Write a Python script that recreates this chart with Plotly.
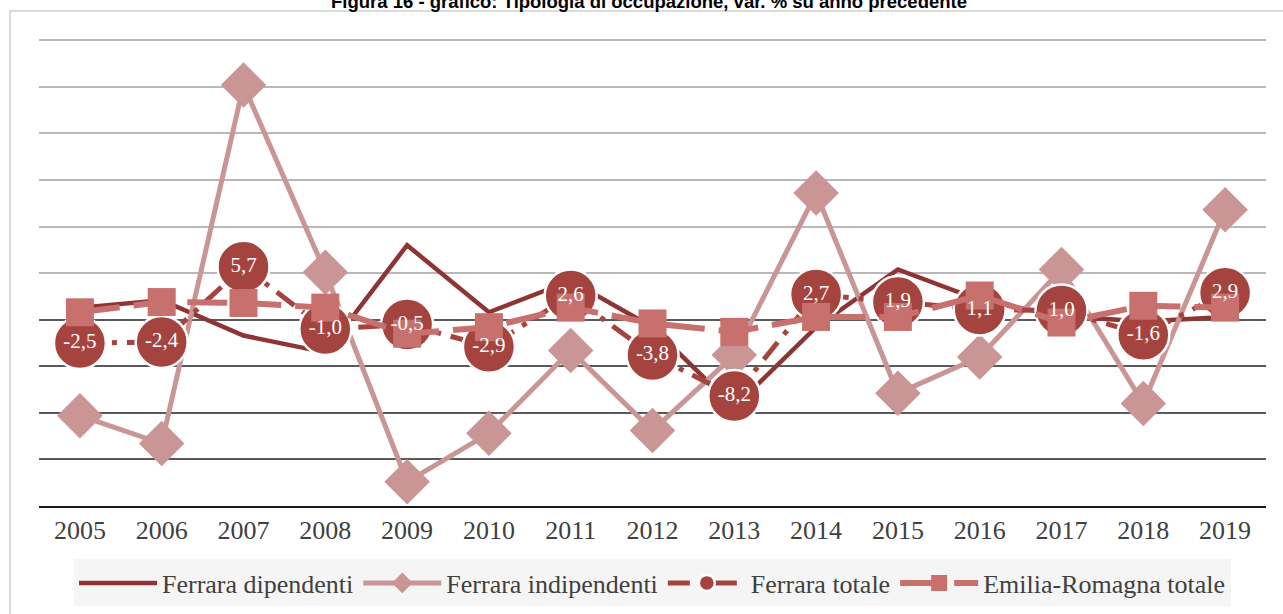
import plotly.graph_objects as go

years = ["2005", "2006", "2007", "2008", "2009", "2010", "2011", "2012",
         "2013", "2014", "2015", "2016", "2017", "2018", "2019"]
dipendenti = [1.3, 2.1, -1.7, -3.5, 8.0, 0.8, 4.2, -0.8, -9.4, -0.8, 5.4, 2.1, 0.4, -0.2, 0.3]
indipendenti = [-10.3, -13.3, 25.2, 5.1, -17.4, -12.2, -3.3, -11.9, -3.8, 13.6, -7.9, -4.0, 5.4, -9.0, 11.8]
totale = [-2.5, -2.4, 5.7, -1.0, -0.5, -2.9, 2.6, -3.8, -8.2, 2.7, 1.9, 1.1, 1.0, -1.6, 2.9]
er_totale = [0.8, 1.9, 1.8, 1.3, -1.5, -0.8, 1.3, -0.4, -1.3, 0.3, 0.3, 2.6, -0.3, 1.5, 1.3]

light_grid = [5, 10, 15, 20, 25, 30]
dark_grid = [-15, -10, -5, 0]

C_DIP = "#8E3533"
C_IND = "#C99595"
C_TOT = "#A5433F"
C_ER = "#C8706E"
SERIF = "Liberation Serif, Times New Roman, serif"

labels = [f"{v:.1f}".replace(".", ",") for v in totale]

fig = go.Figure()
fig.add_trace(go.Scatter(x=years, y=dipendenti, name="Ferrara dipendenti", mode="lines",
                         line=dict(color=C_DIP, width=4.5), yaxis="y"))
fig.add_trace(go.Scatter(x=years, y=indipendenti, name="Ferrara indipendenti", mode="lines+markers",
                         line=dict(color=C_IND, width=5),
                         marker=dict(symbol="diamond", size=35, color=C_IND), yaxis="y2"))
fig.add_trace(go.Scatter(x=years, y=totale, name="Ferrara totale", mode="lines+markers",
                         line=dict(color=C_TOT, width=5, dash="22px,10px,5px,10px"),
                         marker=dict(symbol="circle", size=52, color=C_TOT,
                                     line=dict(color="white", width=2.5)), yaxis="y2"))
fig.add_trace(go.Scatter(x=years, y=er_totale, name="Emilia-Romagna totale", mode="lines+markers",
                         line=dict(color=C_ER, width=6, dash="40px,14px"),
                         marker=dict(symbol="square", size=28, color=C_ER), yaxis="y2"))
fig.add_trace(go.Scatter(x=years, y=totale, mode="text", text=labels, showlegend=False,
                         textposition="middle center",
                         textfont=dict(family=SERIF, size=21, color="white"), yaxis="y2",
                         hoverinfo="skip"))

Y_RANGE = [-20, 30.25]

fig.update_layout(
    width=1283, height=614,
    margin=dict(l=39, r=17, t=38, b=108, autoexpand=False),
    paper_bgcolor="white", plot_bgcolor="white",
    xaxis=dict(type="category", range=[-0.5, 14.5], showgrid=False, zeroline=False,
               showline=True, linecolor="#1a1a1a", linewidth=2, ticks="",
               ticklabelstandoff=0, automargin=False,
               tickfont=dict(family=SERIF, size=26, color="#404040")),
    yaxis=dict(range=Y_RANGE, tickvals=light_grid, showticklabels=False, showgrid=True,
               gridcolor="#b8b8b8", gridwidth=2, zeroline=False, showline=False),
    yaxis2=dict(range=Y_RANGE, tickvals=dark_grid, showticklabels=False, showgrid=True,
                gridcolor="#5a5a5a", gridwidth=2, zeroline=False, showline=False,
                overlaying="y"),
    legend=dict(orientation="h", x=0.5, xanchor="center", y=0.0505, yanchor="middle",
                yref="container",
                bgcolor="#f5f5f5", font=dict(family=SERIF, size=26, color="#404040"),
                itemwidth=78, tracegroupgap=0),
    showlegend=True,
    shapes=[dict(type="rect", xref="paper", yref="paper", x0=-0.0236, x1=1.05, y0=-0.4, y1=1.0577,
                 line=dict(color="#d0d0d0", width=1.5), layer="below")],
    annotations=[dict(text="<b>Figura 16 - grafico: Tipologia di occupazione, var. % su anno precedente</b>",
                      xref="paper", yref="paper", x=0.497, y=1.077, xanchor="center", yanchor="middle",
                      showarrow=False,
                      font=dict(family="Liberation Sans Narrow, Arial Narrow, sans-serif", size=18.5, color="#000000"))],
)

fig.write_html("out.html", config={"displayModeBar": False},
               post_script="document.body.style.margin='0px';")
